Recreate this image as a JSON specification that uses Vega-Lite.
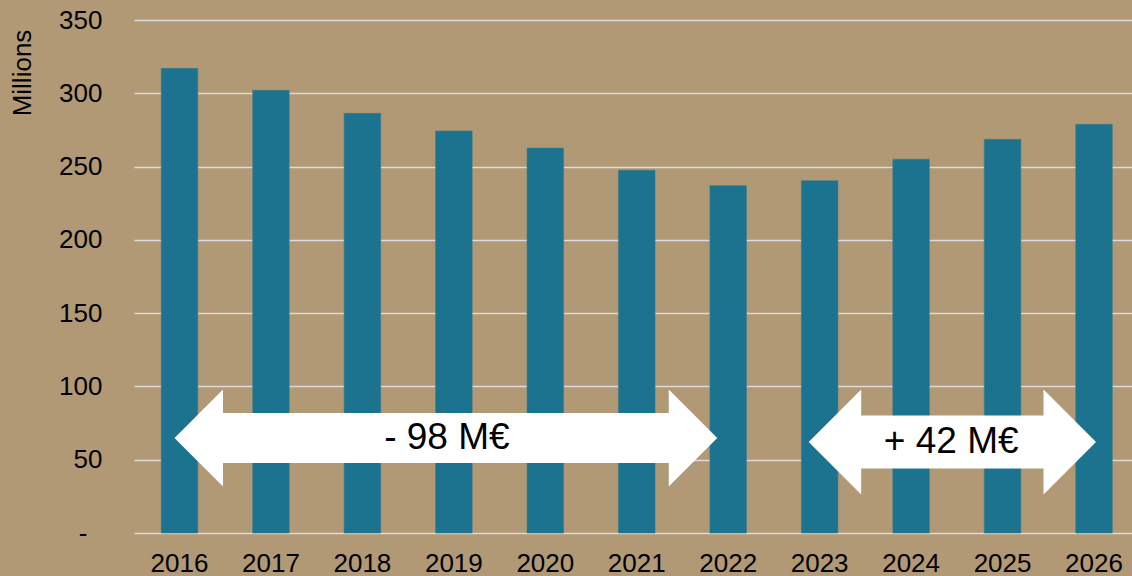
{
  "$schema": "https://vega.github.io/schema/vega-lite/v6.json",
  "width": 998,
  "height": 513,
  "autosize": {"type": "none"},
  "padding": {"left": 134, "top": 20, "right": 0, "bottom": 43},
  "background": "#B09974",
  "config": {
    "view": {"stroke": null},
    "font": "Liberation Sans",
    "axis": {"labelFont": "Liberation Sans", "titleFont": "Liberation Sans"}
  },
  "datasets": {
    "bars": [
      {"year": "2016", "value": 317.0},
      {"year": "2017", "value": 302.0},
      {"year": "2018", "value": 286.3},
      {"year": "2019", "value": 274.3},
      {"year": "2020", "value": 262.6},
      {"year": "2021", "value": 247.5},
      {"year": "2022", "value": 237.0},
      {"year": "2023", "value": 240.4},
      {"year": "2024", "value": 255.0},
      {"year": "2025", "value": 268.6},
      {"year": "2026", "value": 278.8}
    ],
    "arrows": [
      {"id": "down", "from": "2016", "to": "2022", "y": 64.8, "label": "- 98 M€", "labelAt": "2019"},
      {"id": "up", "from": "2023", "to": "2026", "y": 62.1, "label": "+ 42 M€", "labelAt": "2024"}
    ]
  },
  "layer": [
    {
      "data": {"name": "bars"},
      "mark": {"type": "bar", "color": "#1B7390", "stroke": "#3E7D8C", "strokeWidth": 0.6},
      "encoding": {
        "x": {
          "field": "year",
          "type": "ordinal",
          "scale": {"paddingInner": 0.6, "paddingOuter": 0.2566, "align": 0.58},
          "axis": {
            "title": null,
            "labelAngle": 0,
            "labelFontSize": 26,
            "labelColor": "#000000",
            "labelPadding": 17,
            "ticks": false,
            "domain": false,
            "grid": false
          }
        },
        "y": {
          "field": "value",
          "type": "quantitative",
          "scale": {"domain": [0, 350], "nice": false},
          "axis": {
            "values": [0, 50, 100, 150, 200, 250, 300, 350],
            "labelExpr": "datum.value == 0 ? '-' : datum.label",
            "labelFontSize": 26,
            "labelColor": "#000000",
            "labelPadding": {"condition": {"test": "datum.value == 0", "value": 47}, "value": 32},
            "ticks": false,
            "domain": false,
            "grid": true,
            "gridColor": "#DCDCDC",
            "gridWidth": 1.6,
            "title": "Millions",
            "titleFontSize": 26,
            "titleFontWeight": "normal",
            "titleColor": "#000000",
            "titleAngle": -90,
            "titleAnchor": null,
            "titleAlign": "center",
            "titleBaseline": "middle",
            "titleX": -112,
            "titleY": 52.5
          }
        }
      }
    },
    {
      "data": {"name": "arrows"},
      "transform": [{"filter": "datum.id == 'down'"}],
      "mark": {"type": "rule", "color": "#FFFFFF", "strokeWidth": 50, "strokeCap": "butt", "xOffset": 47, "x2Offset": -48},
      "encoding": {
        "x": {"field": "from", "type": "ordinal", "bandPosition": 0.363},
        "x2": {"field": "to", "bandPosition": 0.2},
        "y": {"field": "y", "type": "quantitative"}
      }
    },
    {
      "data": {"name": "arrows"},
      "transform": [{"filter": "datum.id == 'down'"}],
      "mark": {"type": "point", "shape": "M0,0L1,-1L1,1Z", "size": 9409, "filled": true, "color": "#FFFFFF", "opacity": 1},
      "encoding": {
        "x": {"field": "from", "type": "ordinal", "bandPosition": 0.363},
        "y": {"field": "y", "type": "quantitative"}
      }
    },
    {
      "data": {"name": "arrows"},
      "transform": [{"filter": "datum.id == 'down'"}],
      "mark": {"type": "point", "shape": "M0,0L-1,-1L-1,1Z", "size": 9409, "filled": true, "color": "#FFFFFF", "opacity": 1},
      "encoding": {
        "x": {"field": "to", "type": "ordinal", "bandPosition": 0.2},
        "y": {"field": "y", "type": "quantitative"}
      }
    },
    {
      "data": {"name": "arrows"},
      "transform": [{"filter": "datum.id == 'up'"}],
      "mark": {"type": "rule", "color": "#FFFFFF", "strokeWidth": 53, "strokeCap": "butt", "xOffset": 52, "x2Offset": -52},
      "encoding": {
        "x": {"field": "from", "type": "ordinal", "bandPosition": 0.2},
        "x2": {"field": "to", "bandPosition": 0.555},
        "y": {"field": "y", "type": "quantitative"}
      }
    },
    {
      "data": {"name": "arrows"},
      "transform": [{"filter": "datum.id == 'up'"}],
      "mark": {"type": "point", "shape": "M0,0L1,-1L1,1Z", "size": 11025, "filled": true, "color": "#FFFFFF", "opacity": 1},
      "encoding": {
        "x": {"field": "from", "type": "ordinal", "bandPosition": 0.2},
        "y": {"field": "y", "type": "quantitative"}
      }
    },
    {
      "data": {"name": "arrows"},
      "transform": [{"filter": "datum.id == 'up'"}],
      "mark": {"type": "point", "shape": "M0,0L-1,-1L-1,1Z", "size": 11025, "filled": true, "color": "#FFFFFF", "opacity": 1},
      "encoding": {
        "x": {"field": "to", "type": "ordinal", "bandPosition": 0.555},
        "y": {"field": "y", "type": "quantitative"}
      }
    },
    {
      "data": {"name": "arrows"},
      "transform": [{"filter": "datum.id == 'down'"}],
      "mark": {"type": "text", "fontSize": 37, "color": "#000000", "align": "center", "baseline": "middle"},
      "encoding": {
        "x": {"field": "labelAt", "type": "ordinal", "bandPosition": 0.31},
        "y": {"field": "y", "type": "quantitative"},
        "text": {"field": "label"}
      }
    },
    {
      "data": {"name": "arrows"},
      "transform": [{"filter": "datum.id == 'up'"}],
      "mark": {"type": "text", "fontSize": 37, "color": "#000000", "align": "center", "baseline": "middle"},
      "encoding": {
        "x": {"field": "labelAt", "type": "ordinal", "bandPosition": 1.596},
        "y": {"field": "y", "type": "quantitative"},
        "text": {"field": "label"}
      }
    }
  ]
}
